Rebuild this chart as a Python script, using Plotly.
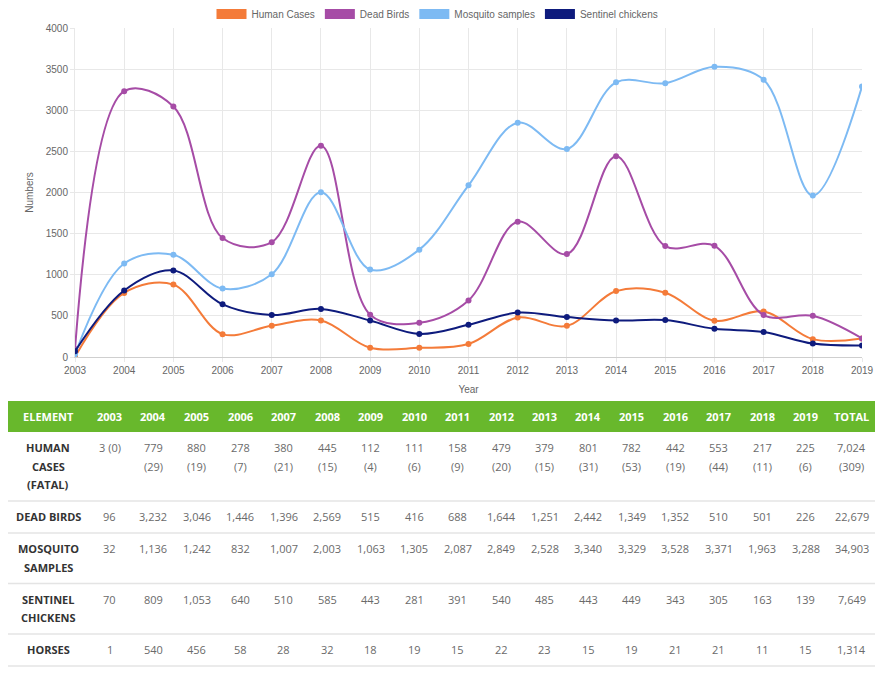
import plotly.graph_objects as go

years = list(range(2003, 2020))
human_cases = [3, 779, 880, 278, 380, 445, 112, 111, 158, 479, 379, 801, 782, 442, 553, 217, 225]
human_fatal = [0, 29, 19, 7, 21, 15, 4, 6, 9, 20, 15, 31, 53, 19, 44, 11, 6]
dead_birds = [96, 3232, 3046, 1446, 1396, 2569, 515, 416, 688, 1644, 1251, 2442, 1349, 1352, 510, 501, 226]
mosquito = [32, 1136, 1242, 832, 1007, 2003, 1063, 1305, 2087, 2849, 2528, 3340, 3329, 3528, 3371, 1963, 3288]
chickens = [70, 809, 1053, 640, 510, 585, 443, 281, 391, 540, 485, 443, 449, 343, 305, 163, 139]
horses = [1, 540, 456, 58, 28, 32, 18, 19, 15, 22, 23, 15, 19, 21, 21, 11, 15]

total_human = 7024
total_fatal = 309
total_birds = 22679
total_mosquito = 34903
total_chickens = 7649
total_horses = 1314

series_names = ["Human Cases", "Dead Birds", "Mosquito samples", "Sentinel chickens"]
series_colors = ["#f47b39", "#a64ca6", "#7dbaf3", "#0e1b7d"]
series_values = [human_cases, dead_birds, mosquito, chickens]

row_labels = [["HUMAN", "CASES", "(FATAL)"], ["DEAD BIRDS"], ["MOSQUITO", "SAMPLES"],
              ["SENTINEL", "CHICKENS"], ["HORSES"]]
header_labels = ["ELEMENT"] + [str(y) for y in years] + ["TOTAL"]

W, H = 875, 677
def px(x):
    return x / W
def py(y):
    return 1 - y / H

fig = go.Figure()

for name, color, vals in zip(series_names, series_colors, series_values):
    fig.add_trace(go.Scatter(
        x=years, y=vals, mode="lines+markers", name=name,
        line=dict(color=color, width=2, shape="spline", smoothing=1.0),
        marker=dict(color=color, size=6),
        showlegend=False,
    ))
    fig.add_trace(go.Scatter(
        x=[None], y=[None], mode="lines", name=name,
        line=dict(color=color, width=10), showlegend=True,
    ))

# ---------- table (built from the arrays) ----------
fmt = lambda v: f"{v:,}"

def human_lines(i):
    if i == 0:
        return [f"{fmt(human_cases[i])} ({human_fatal[i]})"]
    return [fmt(human_cases[i]), f"({human_fatal[i]})"]

col_cells = []
for i in range(len(years)):
    col_cells.append([human_lines(i), [fmt(dead_birds[i])], [fmt(mosquito[i])],
                      [fmt(chickens[i])], [fmt(horses[i])]])
col_cells.append([[fmt(total_human), f"({total_fatal})"], [fmt(total_birds)],
                  [fmt(total_mosquito)], [fmt(total_chickens)], [fmt(total_horses)]])

table_left, label_w, col_w, total_w = 8, 80, 43.5, 48
header_top, header_bot = 401, 432
line_h, first_off, pad_bottom = 18.5, 15.5, 16.5
centers = [table_left + label_w / 2] + \
          [table_left + label_w + col_w * (i + 0.5) for i in range(len(years))] + \
          [table_left + label_w + col_w * len(years) + total_w / 2]
table_right = table_left + label_w + col_w * len(years) + total_w

shapes = [dict(type="rect", xref="paper", yref="paper",
               x0=px(table_left), x1=px(min(table_right, W)), y0=py(header_bot), y1=py(header_top),
               fillcolor="#68b82c", line=dict(width=0), layer="below")]
annotations = []
for c, lab in zip(centers, header_labels):
    annotations.append(dict(x=px(c), y=py((header_top + header_bot) / 2), xref="paper", yref="paper",
                            text=f"<b>{lab}</b>", showarrow=False,
                            font=dict(family="Open Sans", size=11, color="white"),
                            xanchor="center", yanchor="middle"))

row_top = header_bot
for r, labels in enumerate(row_labels):
    nlines = max([len(labels)] + [len(col[r]) for col in col_cells])
    row_h = first_off + line_h * (nlines - 1) + pad_bottom
    for k, t in enumerate(labels):
        annotations.append(dict(x=px(centers[0]), y=py(row_top + first_off + line_h * k),
                                xref="paper", yref="paper", text=f"<b>{t}</b>", showarrow=False,
                                font=dict(family="Open Sans", size=11, color="#333333"),
                                xanchor="center", yanchor="middle"))
    for ci, col in enumerate(col_cells):
        for k, t in enumerate(col[r]):
            annotations.append(dict(x=px(centers[ci + 1]), y=py(row_top + first_off + line_h * k),
                                    xref="paper", yref="paper", text=t, showarrow=False,
                                    font=dict(family="Open Sans", size=11, color="#6a6a6a"),
                                    xanchor="center", yanchor="middle"))
    row_top += row_h
    shapes.append(dict(type="line", xref="paper", yref="paper",
                       x0=px(table_left), x1=px(min(table_right, W)), y0=py(row_top), y1=py(row_top),
                       line=dict(color="#e4e4e4", width=1.5)))

fig.update_layout(
    width=W, height=H,
    margin=dict(l=0, r=0, t=0, b=0, autoexpand=False),
    paper_bgcolor="white", plot_bgcolor="white",
    font=dict(family="Liberation Sans, Arial", color="#666666", size=10),
    xaxis=dict(domain=[px(75), px(862)], range=[2003, 2019], automargin=False,
               tickmode="array", tickvals=years, ticktext=[str(y) for y in years],
               showgrid=True, gridcolor="#e8e8e8", zeroline=False,
               showline=True, linecolor="#cfcfcf",
               title=dict(text="Year", font=dict(size=10, color="#666666"), standoff=10),
               tickfont=dict(size=10, color="#666666"), ticks="outside", ticklen=4,
               tickcolor="#e8e8e8"),
    yaxis=dict(domain=[py(357), py(28)], range=[0, 4000], dtick=500, automargin=False,
               showgrid=True, gridcolor="#e8e8e8", zeroline=False,
               showline=True, linecolor="#e8e8e8",
               title=dict(text="Numbers", font=dict(size=10, color="#666666"), standoff=10),
               tickfont=dict(size=10, color="#666666"), ticks="outside", ticklen=4,
               tickcolor="#e8e8e8"),
    legend=dict(orientation="h", x=0.5, xanchor="center", y=py(14), yanchor="middle",
                font=dict(size=10, color="#666666"), itemwidth=30,
                bgcolor="rgba(0,0,0,0)"),
    shapes=shapes,
    annotations=annotations,
)

fig.write_html("out.html", config={"displayModeBar": False},
               post_script="document.body.style.margin='0px';document.body.style.overflow='hidden';")
